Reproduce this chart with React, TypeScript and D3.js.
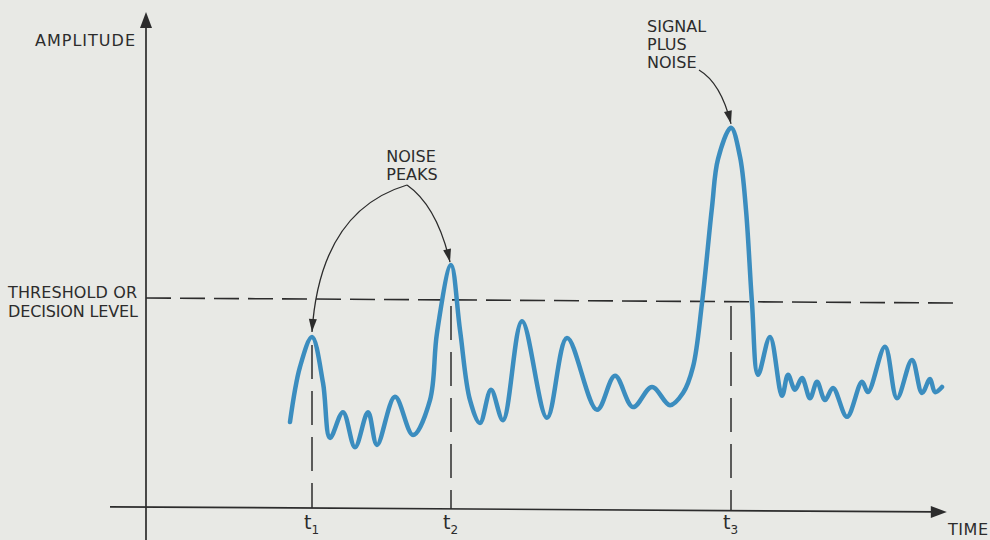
import React from "react";
import * as d3 from "d3";

// ---- data (time units 0..100, amplitude units 0..100) ----
const time = [18, 19.25, 20.75, 22.125, 23, 24.625, 26.125, 27.75, 28.875, 31.125, 33.375, 35.5, 36.375, 38.125, 39.25, 40.5, 41.75, 43.125, 44.625, 47, 50.125, 52.625, 56.375, 58.625, 60.875, 63.25, 65.5, 67.125, 68.375, 69.5, 70.75, 71.5, 73.125, 74.25, 75, 75.75, 76.5, 78, 79.5, 80.25, 81.125, 82, 83, 83.875, 84.875, 85.875, 87.625, 89.5, 90.25, 92.375, 93.875, 95.75, 97, 98, 98.625, 99.5];
const amplitude = [18.2, 30.0, 36.4, 26.6, 14.8, 20.3, 12.8, 20.3, 13.3, 23.6, 15.4, 22.9, 37.3, 51.8, 37.9, 22.9, 18.0, 25.1, 18.6, 39.8, 19.1, 36.2, 20.8, 28.1, 21.4, 25.7, 21.8, 24.4, 30.0, 43.7, 64.2, 74.5, 81.2, 75.0, 63.6, 43.7, 28.3, 36.4, 23.8, 28.3, 25.1, 27.6, 23.3, 26.8, 22.9, 25.5, 19.3, 26.8, 24.6, 34.3, 23.3, 31.5, 24.4, 27.4, 24.6, 25.7];
const markTimes = [20.75, 38.125, 73.125];
const markSubscripts = ["1", "2", "3"];
const thresholdLevel = 44.75;
const yAxisLabel = "AMPLITUDE";
const xAxisLabel = "TIME";
const thresholdLabel = ["THRESHOLD OR", "DECISION LEVEL"];
const noiseLabel = ["NOISE", "PEAKS"];
const signalLabel = ["SIGNAL", "PLUS", "NOISE"];

const W = 990;
const H = 540;
const BG = "#e8e9e5";
const INK = "#2c2c2c";
const BLUE = "#3b8dbf";
const FONT = "'DejaVu Sans', sans-serif";

export default function App() {
  const x = d3.scaleLinear().domain([0, 100]).range([146, 946]);
  const y = d3.scaleLinear().domain([0, 100]).range([507, 40]);
  const tilt = (px: number) => (px - 146) * 0.0062;

  const pts: [number, number][] = time.map((t, i) => [t, amplitude[i]]);
  const line = d3
    .line<[number, number]>()
    .x((d) => x(d[0]))
    .y((d) => y(d[1]))
    .curve(d3.curveCatmullRom.alpha(0.5));

  const x0 = x(0);
  const axisY = (px: number) => y(0) + tilt(px);
  const xAxisStart = 110;
  const xAxisEnd = x(100.1);
  const thrY = (px: number) => y(thresholdLevel) + tilt(px);
  const thrEnd = 960;

  const peakAmp = (t: number) => {
    const i = time.indexOf(t);
    return i >= 0 ? amplitude[i] : thresholdLevel;
  };

  const arrowHead = (tipX: number, tipY: number, fromX: number, fromY: number, len = 13, half = 4) => {
    const ang = Math.atan2(tipY - fromY, tipX - fromX);
    const bx = tipX - len * Math.cos(ang);
    const by = tipY - len * Math.sin(ang);
    const nx = -Math.sin(ang) * half;
    const ny = Math.cos(ang) * half;
    return `M${tipX},${tipY}L${bx + nx},${by + ny}L${bx - nx},${by - ny}Z`;
  };

  const nStart: [number, number] = [407, 185];
  const t1x = x(markTimes[0]);
  const t2x = x(markTimes[1]);
  const t3x = x(markTimes[2]);
  const t1tip: [number, number] = [t1x, y(peakAmp(markTimes[0])) - 5];
  const t2tip: [number, number] = [t2x - 1, y(peakAmp(markTimes[1])) - 3];
  const t3tip: [number, number] = [t3x, y(peakAmp(markTimes[2])) - 4];
  const c1: [number, number] = [320, 211];
  const c2: [number, number] = [437, 206];
  const sStart: [number, number] = [699, 70];
  const c3: [number, number] = [721, 83];

  return (
    <div style={{ position: "absolute", left: 0, top: 0 }}>
      <svg width={W} height={H} style={{ display: "block" }}>
        <rect width={W} height={H} fill={BG} />

        <line x1={x0} y1={thrY(x0)} x2={thrEnd} y2={thrY(thrEnd)} stroke={INK} strokeWidth={1.6} strokeDasharray="25 9" />

        {markTimes.map((t, i) => {
          const px = x(t);
          const top = Math.max(y(peakAmp(t)), y(thresholdLevel)) + 8;
          return (
            <line key={i} x1={px} x2={px} y1={top} y2={axisY(px)} stroke={INK} strokeWidth={1.5} strokeDasharray="34 12" />
          );
        })}

        <line x1={x0} y1={27} x2={x0} y2={H} stroke={INK} strokeWidth={1.7} />
        <path d={`M${x0},12L${x0 - 6},28L${x0 + 6},28Z`} fill={INK} />
        <line x1={xAxisStart} y1={axisY(xAxisStart)} x2={xAxisEnd - 12} y2={axisY(xAxisEnd - 12)} stroke={INK} strokeWidth={1.7} />
        <path d={`M${xAxisEnd},${axisY(xAxisEnd)}L${xAxisEnd - 16},${axisY(xAxisEnd) - 6}L${xAxisEnd - 16},${axisY(xAxisEnd) + 6}Z`} fill={INK} />

        <path d={line(pts) || ""} fill="none" stroke={BLUE} strokeWidth={4.5} strokeLinecap="round" strokeLinejoin="round" />

        <path d={`M${nStart[0]},${nStart[1]}Q${c1[0]},${c1[1]} ${t1tip[0]},${t1tip[1]}`} fill="none" stroke={INK} strokeWidth={1.3} />
        <path d={arrowHead(t1tip[0], t1tip[1], c1[0], c1[1])} fill={INK} />
        <path d={`M${nStart[0]},${nStart[1]}Q${c2[0]},${c2[1]} ${t2tip[0]},${t2tip[1]}`} fill="none" stroke={INK} strokeWidth={1.3} />
        <path d={arrowHead(t2tip[0], t2tip[1], c2[0], c2[1])} fill={INK} />
        <path d={`M${sStart[0]},${sStart[1]}Q${c3[0]},${c3[1]} ${t3tip[0]},${t3tip[1]}`} fill="none" stroke={INK} strokeWidth={1.3} />
        <path d={arrowHead(t3tip[0], t3tip[1], c3[0], c3[1])} fill={INK} />

        <g fontFamily={FONT} fill={INK} fontSize={16}>
          <text x={35} y={46} textLength={100} lengthAdjust="spacing">{yAxisLabel}</text>
          <text x={8} y={298} textLength={129} lengthAdjust="spacing">{thresholdLabel[0]}</text>
          <text x={8} y={317} textLength={130} lengthAdjust="spacing">{thresholdLabel[1]}</text>
          <text x={411} y={162} textAnchor="middle">{noiseLabel[0]}</text>
          <text x={412} y={180} textAnchor="middle">{noiseLabel[1]}</text>
          {signalLabel.map((s, i) => (
            <text key={i} x={647} y={32 + i * 18}>{s}</text>
          ))}
          <text x={948} y={535} textLength={40} lengthAdjust="spacing">{xAxisLabel}</text>
          {markTimes.map((t, i) => (
            <text key={i} x={x(t) - 8} y={529} fontSize={19}>
              t<tspan fontSize={12} dy={5}>{markSubscripts[i]}</tspan>
            </text>
          ))}
        </g>
      </svg>
    </div>
  );
}
